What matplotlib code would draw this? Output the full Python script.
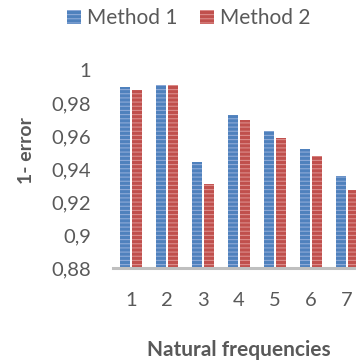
"""
Bar chart: 1 - error per natural frequency for two methods.
"""

import matplotlib

matplotlib.use("Agg")
import matplotlib.pyplot as plt  # noqa: E402
import numpy as np  # noqa: E402
from matplotlib.patches import Patch  # noqa: E402

FREQUENCIES = ["1", "2", "3", "4", "5", "6", "7"]
METHOD_1 = [0.990, 0.991, 0.944, 0.973, 0.963, 0.952, 0.936]
METHOD_2 = [0.988, 0.991, 0.931, 0.970, 0.959, 0.948, 0.927]
SERIES_NAMES = ["Method 1", "Method 2"]
Y_TICKS = [0.88, 0.90, 0.92, 0.94, 0.96, 0.98, 1.00]
Y_TICK_LABELS = ["0,88", "0,9", "0,92", "0,94", "0,96", "0,98", "1"]

BLUE, BLUE_STRIPE = "#4F81BD", "#8DAAD8"
RED, RED_STRIPE = "#C0504D", "#DC8C8A"
TEXT_GREY = "#595959"
W, H = 356, 363


def main() -> None:
    plt.rcParams["font.family"] = ["Lato", "DejaVu Sans"]
    plt.rcParams["hatch.linewidth"] = 0.8

    fig = plt.figure(figsize=(W / 100, H / 100), dpi=100)
    # plot area runs past the right edge, as in the cropped original
    ax = fig.add_axes([113 / W, (H - 268) / H, 252 / W, 198 / H])

    x = np.arange(len(FREQUENCIES))
    width = 0.28
    offset = 0.16
    ax.bar(x - offset, METHOD_1, width, color=BLUE, edgecolor=BLUE_STRIPE,
           linewidth=0, hatch="----", zorder=2)
    ax.bar(x + offset, METHOD_2, width, color=RED, edgecolor=RED_STRIPE,
           linewidth=0, hatch="----", zorder=2)

    ax.set_xlim(-0.5, len(FREQUENCIES) - 0.5)
    ax.set_ylim(0.88, 1.0)
    ax.set_xticks(x)
    ax.set_xticklabels(FREQUENCIES)
    ax.set_yticks(Y_TICKS)
    ax.set_yticklabels(Y_TICK_LABELS)
    ax.tick_params(axis="both", length=0, labelsize=14.5, labelcolor=TEXT_GREY)
    ax.tick_params(axis="y", pad=16)
    ax.tick_params(axis="x", pad=17)

    for side in ["top", "right", "left"]:
        ax.spines[side].set_visible(False)
    ax.spines["bottom"].set_color("#BFBFBF")
    ax.spines["bottom"].set_linewidth(2.2)
    ax.spines["bottom"].set_zorder(3)

    fig.text(26 / W, 1 - 151 / H, "1- error", rotation=90, ha="center",
             va="center", fontsize=14, fontweight="bold", color=TEXT_GREY)
    fig.text(239 / W, 1 - 350 / H, "Natural frequencies", ha="center",
             va="center", fontsize=15, fontweight="bold", color=TEXT_GREY)

    handles = [
        Patch(facecolor=BLUE, edgecolor=BLUE_STRIPE, linewidth=0, hatch="----"),
        Patch(facecolor=RED, edgecolor=RED_STRIPE, linewidth=0, hatch="----"),
    ]
    fig.legend(handles, SERIES_NAMES, loc="center",
               bbox_to_anchor=(189 / W, 1 - 18 / H), ncol=2, frameon=False,
               fontsize=15, labelcolor=TEXT_GREY, handlelength=0.65,
               handleheight=0.65, handletextpad=0.3, columnspacing=1.1)

    fig.savefig("out.png", dpi=100)


if __name__ == "__main__":
    main()
